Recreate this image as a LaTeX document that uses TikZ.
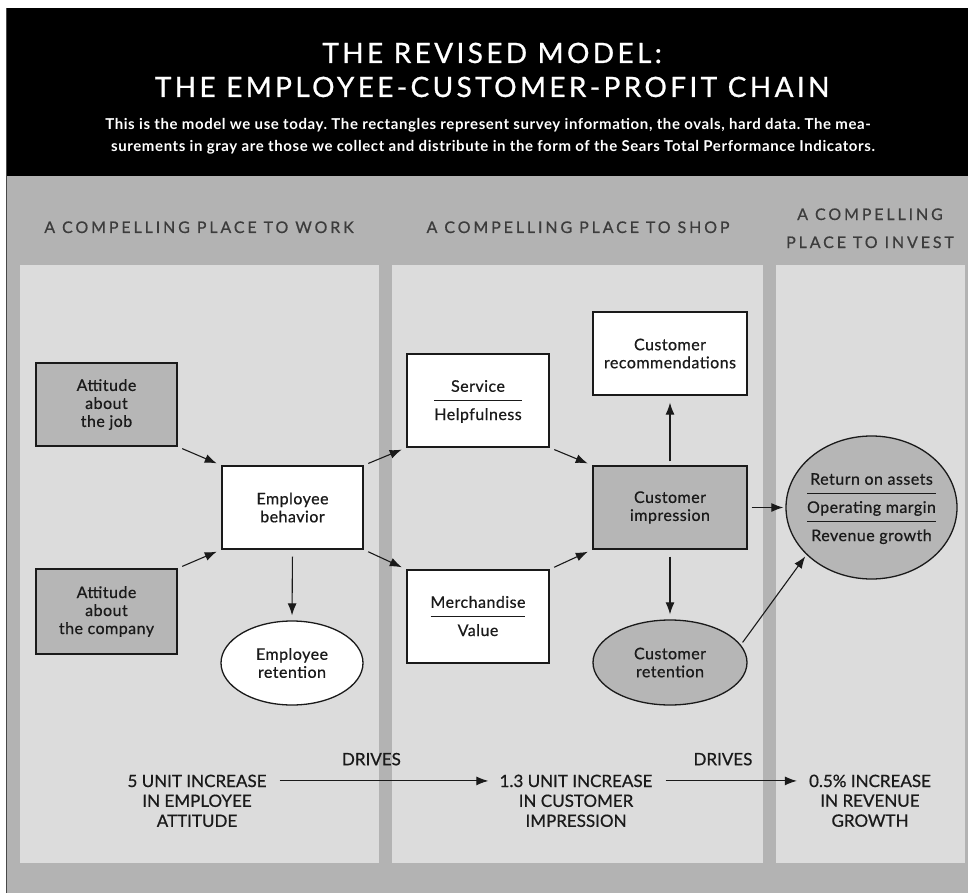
\documentclass[tikz,border=0pt]{standalone}
\usepackage{fontspec}
\setmainfont{Lato}[LetterSpace=3,FakeBold=0.6]
\newfontfamily\titlefont[LetterSpace=12,FakeBold=0.8]{Lato}
\newfontfamily\subfont[LetterSpace=4]{Lato Bold}
\newfontfamily\capsfont[LetterSpace=18,FakeBold=0.6]{Lato}
\newfontfamily\bigfont[FakeBold=0.6]{Lato}
\usetikzlibrary{arrows.meta,shapes.geometric,positioning}
\definecolor{bggray}{HTML}{B3B3B3}
\definecolor{panelgray}{HTML}{DCDCDC}
\definecolor{boxgray}{HTML}{B6B6B6}
\definecolor{ink}{HTML}{1A1A1A}
\renewcommand{\arraystretch}{1.5}
\setlength{\arrayrulewidth}{1.2pt}
\frenchspacing
\begin{document}
\begin{tikzpicture}[x=1pt,y=-1pt,
    box/.style={rectangle,draw=ink,line width=1.3pt,inner sep=0pt,minimum width=141pt,minimum height=83pt,
      align=center,text=ink,font=\fontsize{16}{18}\selectfont},
    oval/.style={box,ellipse},
    title/.style={text=white,inner sep=0pt,font=\titlefont\fontsize{28}{34}\selectfont},
    sub/.style={text=white,inner sep=0pt,font=\subfont\fontsize{15}{16}\selectfont},
    head/.style={text=ink!85,inner sep=0pt,align=center,font=\capsfont\fontsize{16}{28}\selectfont},
    big/.style={text=ink,inner sep=0pt,align=center,font=\bigfont\fontsize{17}{20}\selectfont},
    arr/.style={draw=ink,line width=1.1pt,-{Latex[length=12pt,width=9pt]}}]
  \useasboundingbox (0,0) rectangle (968,893);
  \fill[white] (0,0) rectangle (968,893);
  \fill[bggray] (6,176) rectangle (968,893);
  \fill[black] (6,8) rectangle (968,176);
  \draw[ink!80,line width=1.5pt] (6.5,8) -- (6.5,893);
  \fill[panelgray] (20,265) rectangle (379,863);
  \fill[panelgray] (392,265) rectangle (763,863);
  \fill[panelgray] (776,265) rectangle (965,863);

  \node[title,anchor=base] (title1) at (492,63) {THE REVISED MODEL:};
  \node[title,anchor=base] (title2) at (492,97) {THE EMPLOYEE-CUSTOMER-PROFIT CHAIN};
  \node[sub,anchor=base] (sub1) at (488,130) {This is the model we use today. The rectangles represent survey information, the ovals, hard data. The mea-};
  \node[sub,anchor=base] (sub2) at (493,152) {surements in gray are those we collect and distribute in the form of the Sears Total Performance Indicators.};

  \node[head,anchor=base] (hwork) at (199,233) {A COMPELLING PLACE TO WORK};
  \node[head,anchor=base] (hshop) at (578,233) {A COMPELLING PLACE TO SHOP};
  \node[head,anchor=base] (hinv) at (870,248) {A COMPELLING\\PLACE TO INVEST};

  \node[box,fill=boxgray] (job) at (106.5,404.5) {Attitude\\about\\the job};
  \node[box,fill=boxgray,minimum height=85pt] (comp) at (106.5,611.5) {Attitude\\about\\the company};
  \node[box,fill=white] (behav) at (292.5,507.5) {Employee\\behavior};
  \node[oval,fill=white,minimum width=142pt,minimum height=84pt] (eret) at (292,663) {Employee\\retention};
  \node[box,fill=white,minimum width=142pt,minimum height=93pt] (serv) at (478,400.5)
    {\begin{tabular}{@{}c@{}}Service\\\hline Helpfulness\end{tabular}};
  \node[box,fill=white,minimum width=142pt,minimum height=93pt] (merch) at (478,616.5)
    {\begin{tabular}{@{}c@{}}Merchandise\\\hline Value\end{tabular}};
  \node[box,fill=white,minimum width=154pt] (rec) at (670,353.5) {Customer\\recommendations};
  \node[box,fill=boxgray,minimum width=154pt] (imp) at (670,507.5) {Customer\\impression};
  \node[oval,fill=boxgray,minimum width=154pt,minimum height=85pt] (cret) at (670,662.5) {Customer\\retention};
  \node[oval,fill=boxgray,minimum width=171pt,minimum height=143pt] (fin) at (871.5,507.5)
    {\makebox[90pt]{\begin{tabular}{@{}c@{}}Return on assets\\\hline Operating margin\\\hline Revenue growth\end{tabular}}};

  \draw[arr,shorten <=5pt,shorten >=5pt] (job.south east) -- (behav.north west);
  \draw[arr,shorten <=5pt,shorten >=5pt] (comp.north east) -- (behav.south west);
  \draw[arr,shorten <=7pt,shorten >=5pt] (behav.south) -- (eret.north);
  \draw[arr,shorten <=5pt,shorten >=5pt] (behav.north east) -- (serv.south west);
  \draw[arr,shorten <=5pt,shorten >=5pt] (behav.south east) -- (merch.north west);
  \draw[arr,shorten <=5pt,shorten >=5pt] (serv.south east) -- (imp.north west);
  \draw[arr,shorten <=5pt,shorten >=5pt] (merch.north east) -- (imp.south west);
  \draw[arr,shorten <=4pt,shorten >=7pt] (imp.north) -- (rec.south);
  \draw[arr,shorten <=7pt,shorten >=5pt] (imp.south) -- (cret.north);
  \draw[arr,shorten <=4pt,shorten >=2pt] (imp.east) -- (fin.west);
  \draw[arr,shorten <=3pt,shorten >=2pt] (cret.14) -- (fin.216);

  \node[big,anchor=base] (wk) at (197,787) {5 UNIT INCREASE};
  \node[big,below=7pt of wk] (wkb) {IN EMPLOYEE\\ATTITUDE};
  \node[big,anchor=base] (shop) at (576,787) {1.3 UNIT INCREASE};
  \node[big,below=7pt of shop] (shopb) {IN CUSTOMER\\IMPRESSION};
  \node[big,anchor=base] (inv) at (870,787) {0.5\% INCREASE};
  \node[big,below=7pt of inv] (invb) {IN REVENUE\\GROWTH};
  \draw[arr,shorten <=13pt,shorten >=11pt] (wk) -- node[big,pos=.45,above=15pt] (dr1) {DRIVES} (shop);
  \draw[arr,shorten <=13pt,shorten >=12pt] (shop) -- node[big,pos=.45,above=15pt] (dr2) {DRIVES} (inv);
\end{tikzpicture}
\end{document}
